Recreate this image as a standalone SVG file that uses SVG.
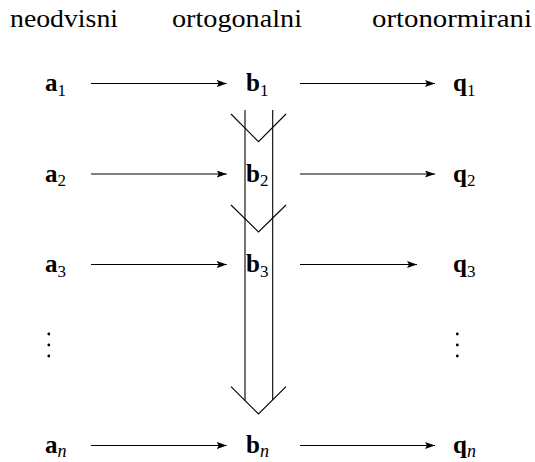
<svg xmlns="http://www.w3.org/2000/svg" width="535" height="462" viewBox="0 0 535 462" font-family="'Liberation Serif', 'DejaVu Serif', serif">
<style>
text{font-family:'Liberation Serif','DejaVu Serif',serif}
.hdr{font-size:25px;fill:#000}
.lbl{font-size:25px;font-weight:bold;fill:#000}
.sub{font-size:17px;font-weight:normal;fill:#000}
.subi{font-size:18px;font-style:italic;font-weight:normal;fill:#000}
.arr{stroke:#000;stroke-width:1.1;fill:none;marker-end:url(#ah)}
.big{stroke:#000;stroke-width:1.1;fill:none}
</style>
<defs>
<marker id="ah" markerWidth="11" markerHeight="8" refX="10" refY="3.5" orient="auto" markerUnits="userSpaceOnUse">
<path d="M0,0 L10,3.5 L0,7 L2,3.5 z" fill="#000"/>
</marker>
</defs>
<g id="headers" font-family="Liberation Serif">
<text class="hdr" x="10" y="27" textLength="108" lengthAdjust="spacingAndGlyphs">neodvisni</text>
<text class="hdr" x="172" y="27" textLength="130" lengthAdjust="spacingAndGlyphs">ortogonalni</text>
<text class="hdr" x="372" y="27" textLength="160" lengthAdjust="spacingAndGlyphs">ortonormirani</text>
</g>
<g id="a1"><text class="lbl" x="45" y="91">a<tspan class="sub" dy="4.5">1</tspan></text></g>
<g id="b1"><text class="lbl" x="246" y="91">b<tspan class="sub" dy="4.5">1</tspan></text></g>
<g id="q1"><text class="lbl" x="453" y="91">q<tspan class="sub" dy="4.5">1</tspan></text></g>
<g id="a2"><text class="lbl" x="45" y="181.7">a<tspan class="sub" dy="4.5">2</tspan></text></g>
<g id="b2"><text class="lbl" x="246" y="181.7">b<tspan class="sub" dy="4.5">2</tspan></text></g>
<g id="q2"><text class="lbl" x="453" y="181.7">q<tspan class="sub" dy="4.5">2</tspan></text></g>
<g id="a3"><text class="lbl" x="45" y="272">a<tspan class="sub" dy="4.5">3</tspan></text></g>
<g id="b3"><text class="lbl" x="246" y="272">b<tspan class="sub" dy="4.5">3</tspan></text></g>
<g id="q3"><text class="lbl" x="453" y="272">q<tspan class="sub" dy="4.5">3</tspan></text></g>
<g id="an"><text class="lbl" x="45" y="453">a<tspan class="subi" dy="4">n</tspan></text></g>
<g id="bn"><text class="lbl" x="246" y="453">b<tspan class="subi" dy="4">n</tspan></text></g>
<g id="qn"><text class="lbl" x="453" y="453">q<tspan class="subi" dy="4">n</tspan></text></g>
<g id="dots-left" fill="#000">
<circle cx="48.8" cy="334" r="1.4"/><circle cx="48.8" cy="345" r="1.4"/><circle cx="48.8" cy="356" r="1.4"/>
</g>
<g id="dots-right" fill="#000">
<circle cx="457.3" cy="334" r="1.4"/><circle cx="457.3" cy="345" r="1.4"/><circle cx="457.3" cy="356" r="1.4"/>
</g>
<g id="connectors">
<line class="arr" x1="91" y1="83.5" x2="226.7" y2="83.5"/>
<line class="arr" x1="300" y1="83.5" x2="435" y2="83.5"/>
<line class="arr" x1="91" y1="174" x2="226.7" y2="174"/>
<line class="arr" x1="300" y1="174" x2="435" y2="174"/>
<line class="arr" x1="91" y1="264.5" x2="226.7" y2="264.5"/>
<line class="arr" x1="300" y1="264.5" x2="417" y2="264.5"/>
<line class="arr" x1="91" y1="445.5" x2="226.7" y2="445.5"/>
<line class="arr" x1="300" y1="445.5" x2="435" y2="445.5"/>
</g>
<g id="double-arrow">
<line class="big" x1="245" y1="110" x2="245" y2="400.7"/>
<line class="big" x1="272.7" y1="110" x2="272.7" y2="400"/>
<polyline class="big" points="231,114 258.5,141.7 286,114"/>
<polyline class="big" points="231,205 258.5,232 286,205"/>
<polyline class="big" points="231,386.7 258.5,414 286,386.7"/>
</g>
</svg>
